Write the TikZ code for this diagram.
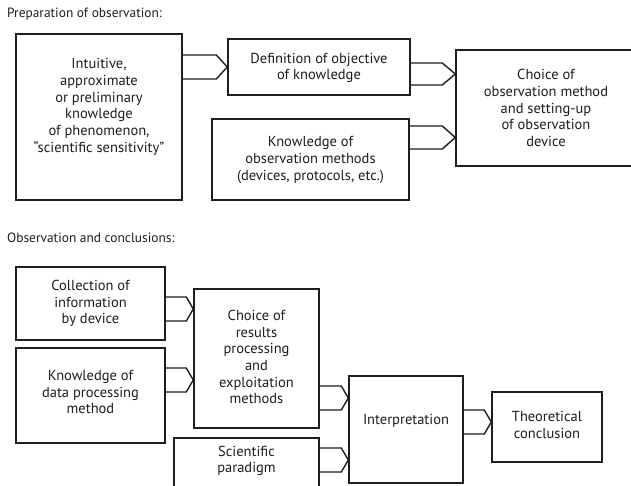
\documentclass[tikz,border=0pt]{standalone}
\usepackage{fontspec}
\setmainfont{PT Sans}
\usetikzlibrary{calc}
\definecolor{ink}{HTML}{1E1E1E}
\tikzset{
  box/.style={draw=ink, line width=1.4pt, rectangle, inner sep=0pt},
  txt/.style={text=ink, align=center, inner sep=0pt,
    font=\fontsize{14.5}{16.7}\selectfont},
  heading/.style={text=ink, anchor=base west, inner sep=0pt,
    font=\fontsize{13.4}{15}\selectfont},
  link/.style={draw=ink, line width=1.4pt, line join=miter},
}
% box from its corners (x1,y1,x2,y2), in pixel units with y pointing down
\newcommand\boxat[5]{%
  \node[box, minimum width={#4-#2}, minimum height={#5-#3}]
    (#1) at ({(#2+#4)/2},{(#3+#5)/2}) {};}
% chevron-shaped connector: source, target, mid height, half height, tip length
\newcommand\chevron[5]{%
  \draw[link] (#1.east |- 0,{#3-#4})
    -- ($(#2.west |- 0,{#3-#4})+(-#5,0)$)
    -- (#2.west |- 0,#3)
    -- ($(#2.west |- 0,{#3+#4})+(-#5,0)$)
    -- (#1.east |- 0,{#3+#4});}
\begin{document}
\begin{tikzpicture}[x=1pt,y=-1pt]
\useasboundingbox (0,0) rectangle (631,486);
\fill[white] (0,0) rectangle (631,486);
\clip (0,0) rectangle (631,486);

% ---- Preparation of observation ----
\node[heading] (h1) at (7,18) {Preparation of observation:};

\boxat{intu}{16}{34}{182}{200}
\boxat{defn}{228}{39}{410}{95}
\boxat{meth}{212}{119}{409}{200}
\boxat{choi}{456}{50}{638}{166}

\node[txt] (intuT) at (99,107) {Intuitive,\\approximate\\or preliminary\\knowledge\\of phenomenon,\\“scientific sensitivity”};
\node[txt] (defnT) at (319,68) {Definition of objective\\of knowledge};
\node[txt] (methT) at (310.5,160) {Knowledge of\\observation methods\\(devices, protocols, etc.)};
\node[txt] (choiT) at (546,108) {Choice of\\observation method\\and setting-up\\of observation\\device};

\chevron{intu}{defn}{67}{12}{11}
\chevron{defn}{choi}{74}{11}{13}
\chevron{meth}{choi}{137.5}{11.5}{13}

% ---- Observation and conclusions ----
\node[heading] (h2) at (7,243) {Observation and conclusions:};

\boxat{coll}{16}{267}{165}{340}
\boxat{data}{16}{348}{165}{443}
\boxat{resu}{194}{289}{319}{428}
\boxat{para}{174}{438}{319}{492}
\boxat{inte}{349}{376}{463}{483}
\boxat{theo}{492}{392}{602}{462}

\node[txt] (collT) at (90.5,303.5) {Collection of\\information\\by device};
\node[txt] (dataT) at (90.5,392) {Knowledge of\\data processing\\method};
\node[txt] (resuT) at (256.5,357) {Choice of\\results\\processing\\and\\exploitation\\methods};
\node[txt] (paraT) at (246.5,461) {Scientific\\paradigm};
\node[txt] (inteT) at (406,421) {Interpretation};
\node[txt] (theoT) at (547,425) {Theoretical\\conclusion};

\chevron{coll}{resu}{309}{12}{7}
\chevron{data}{resu}{380}{12}{7}
\chevron{resu}{inte}{398}{12}{7}
\chevron{para}{inte}{460}{12}{7}
\chevron{inte}{theo}{422}{12}{7}
\end{tikzpicture}
\end{document}
